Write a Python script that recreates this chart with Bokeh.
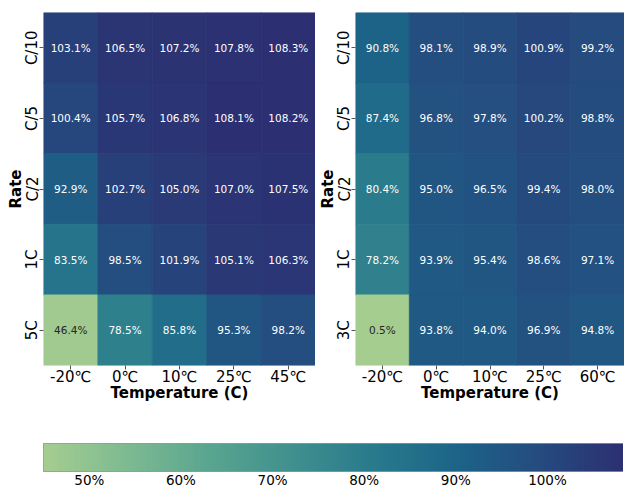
import numpy as np
from bokeh.plotting import figure
from bokeh.models import (ColumnDataSource, LinearColorMapper, FactorRange, Range1d,
                          FixedTicker, PrintfTickFormatter)
from bokeh.layouts import column, row
from bokeh.core.properties import value
from bokeh.embed import file_html
from bokeh.resources import INLINE

# ---- data ----
rates_left = ["C/10", "C/5", "C/2", "1C", "5C"]
temps_left = ["-20℃", "0℃", "10℃", "25℃", "45℃"]
vals_left = [
    [103.1, 106.5, 107.2, 107.8, 108.3],
    [100.4, 105.7, 106.8, 108.1, 108.2],
    [92.9, 102.7, 105.0, 107.0, 107.5],
    [83.5, 98.5, 101.9, 105.1, 106.3],
    [46.4, 78.5, 85.8, 95.3, 98.2],
]

rates_right = ["C/10", "C/5", "C/2", "1C", "3C"]
temps_right = ["-20℃", "0℃", "10℃", "25℃", "60℃"]
vals_right = [
    [90.8, 98.1, 98.9, 100.9, 99.2],
    [87.4, 96.8, 97.8, 100.2, 98.8],
    [80.4, 95.0, 96.5, 99.4, 98.0],
    [78.2, 93.9, 95.4, 98.6, 97.1],
    [0.5, 93.8, 94.0, 96.9, 94.8],
]

cbar_ticks = [50, 60, 70, 80, 90, 100]
vmin, vmax = 45.0, 108.3

# ---- "crest"-like palette ----
anchors_t = [0.0, 1/7, 2/7, 3/7, 4/7, 5/7, 6/7, 1.0]
anchors_c = [(165, 205, 144), (125, 186, 145), (89, 165, 144), (64, 144, 142),
             (40, 122, 140), (28, 100, 136), (37, 75, 127), (44, 48, 114)]
ts = np.linspace(0, 1, 256)
arr = np.array(anchors_c, dtype=float)
palette = []
for t in ts:
    r = np.interp(t, anchors_t, arr[:, 0])
    g = np.interp(t, anchors_t, arr[:, 1])
    b = np.interp(t, anchors_t, arr[:, 2])
    palette.append("#%02x%02x%02x" % (int(round(r)), int(round(g)), int(round(b))))

mapper = LinearColorMapper(palette=palette, low=vmin, high=vmax)

FONT = "DejaVu Sans"


def heat(rates, temps, vals, frame_w, border_left, border_right):
    xs, ys, vs, labels, tcols = [], [], [], [], []
    for i, rname in enumerate(rates):
        for j, tname in enumerate(temps):
            v = vals[i][j]
            xs.append(tname)
            ys.append(rname)
            vs.append(v)
            labels.append("%.1f%%" % v)
            frac = (min(max(v, vmin), vmax) - vmin) / (vmax - vmin)
            tcols.append("#262626" if frac < 0.2 else "#ffffff")
    src = ColumnDataSource(dict(x=xs, y=ys, v=vs, label=labels, tc=tcols))
    p = figure(x_range=FactorRange(*temps), y_range=FactorRange(*list(reversed(rates))),
               frame_width=frame_w, frame_height=353,
               min_border_left=border_left, min_border_right=border_right,
               min_border_top=12, min_border_bottom=0,
               output_backend="svg", toolbar_location=None)
    p.rect(x="x", y="y", width=1, height=1, source=src,
           fill_color={"field": "v", "transform": mapper},
           line_color={"field": "v", "transform": mapper}, line_width=0.8)
    p.text(x="x", y="y", text="label", source=src, text_color="tc",
           text_align="center", text_baseline="middle",
           text_font=value(FONT), text_font_size="10.5px")
    p.outline_line_color = None
    p.grid.visible = False
    for ax in (p.xaxis, p.yaxis):
        ax.axis_line_color = None
        ax.major_tick_in = 0
        ax.major_tick_out = 4
        ax.major_tick_line_color = "#555555"
        ax.minor_tick_line_color = None
        ax.major_label_text_font = FONT
        ax.major_label_text_font_size = "15px"
        ax.major_label_text_color = "#000000"
        ax.major_label_standoff = -2
        ax.axis_label_text_font = FONT
        ax.axis_label_text_font_size = "15px"
        ax.axis_label_text_font_style = "bold"
        ax.axis_label_text_color = "#000000"
    p.xaxis.axis_label_standoff = -5
    p.yaxis.axis_label_standoff = -4
    p.xaxis.axis_label = "Temperature (C)"
    p.yaxis.axis_label = "Rate"
    p.yaxis.major_label_orientation = "vertical"
    return p


p1 = heat(rates_left, temps_left, vals_left, 272, 43, 0)
p2 = heat(rates_right, temps_right, vals_right, 269, 39, 0)

# ---- colorbar ----
p3 = figure(x_range=Range1d(vmin, vmax), y_range=Range1d(0, 1),
            frame_width=580, frame_height=28, min_border_left=43, min_border_right=0,
            min_border_top=39, min_border_bottom=0,
            output_backend="svg", toolbar_location=None)
grad = np.linspace(vmin, vmax, 600).reshape(1, -1)
p3.image(image=[grad], x=vmin, y=0, dw=vmax - vmin, dh=1, color_mapper=mapper)
p3.grid.visible = False
p3.yaxis.visible = False
p3.outline_line_color = "#555555"
p3.outline_line_alpha = 0.6
p3.xaxis.ticker = FixedTicker(ticks=cbar_ticks)
p3.xaxis.formatter = PrintfTickFormatter(format="%d%%")
p3.xaxis.axis_line_color = None
p3.xaxis.major_tick_out = 0
p3.xaxis.major_tick_in = 0
p3.xaxis.minor_tick_line_color = None
p3.xaxis.major_label_standoff = 0
p3.xaxis.major_label_text_font = FONT
p3.xaxis.major_label_text_font_size = "13.5px"
p3.xaxis.major_label_text_color = "#000000"

layout = column(row(p1, p2, spacing=0), p3, spacing=0)
open("out.html", "w").write(file_html(layout, INLINE))
